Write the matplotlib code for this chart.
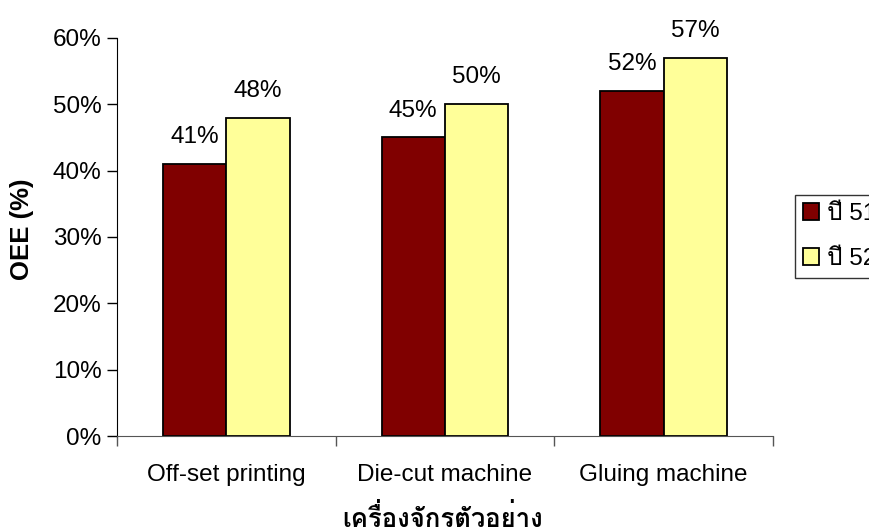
import matplotlib
matplotlib.use("Agg")
import matplotlib.pyplot as plt
from matplotlib import font_manager
from matplotlib.ft2font import FT2Font
import numpy as np

categories = ["Off-set printing", "Die-cut machine", "Gluing machine"]
series_names = ["ปี 51", "ปี 52"]
oee_51 = [41, 45, 52]
oee_52 = [48, 50, 57]
y_ticks = [0, 10, 20, 30, 40, 50, 60]
x_title = "เครื่องจักรตัวอย่าง"
y_title = "OEE (%)"


def thai_family():
    """Return the name of an installed font that can draw Thai text."""
    seen = set()
    for f in font_manager.fontManager.ttflist:
        if f.name in seen:
            continue
        seen.add(f.name)
        try:
            cmap = FT2Font(f.fname).get_charmap()
        except Exception:
            continue
        if 0x0E1B in cmap and 0x0E35 in cmap:
            return f.name
    return None


thai = thai_family()
latin = "Liberation Sans"
fams = [latin] + ([thai] if thai else []) + ["DejaVu Sans"]
plt.rcParams["font.family"] = fams

fig = plt.figure(figsize=(8.7, 5.29), dpi=100)
ax = fig.add_axes([0.1345, 0.1758, 0.754, 0.7524])

x = np.arange(len(categories))
w = 0.29
c51 = "#800000"
c52 = "#FFFF99"
b1 = ax.bar(x - w / 2, oee_51, w, color=c51, edgecolor="black", linewidth=1.3,
            label=series_names[0])
b2 = ax.bar(x + w / 2, oee_52, w, color=c52, edgecolor="black", linewidth=1.3,
            label=series_names[1])

fs = 17.5
for bars, vals in ((b1, oee_51), (b2, oee_52)):
    for rect, v in zip(bars, vals):
        ax.text(rect.get_x() + rect.get_width() / 2, v + 2.4, f"{v}%",
                ha="center", va="bottom", fontsize=fs, color="black")

ax.set_xlim(-0.5, len(categories) - 0.5)
ax.set_ylim(0, 60)
ax.set_yticks(y_ticks)
ax.set_yticklabels([f"{t}%" for t in y_ticks], fontsize=fs)

ax.set_xticks(np.arange(len(categories) + 1) - 0.5)
ax.set_xticklabels([])
ax.set_xticks(x, minor=True)
ax.set_xticklabels(categories, minor=True, fontsize=fs)
ax.tick_params(axis="x", which="minor", length=0, pad=20)
ax.tick_params(axis="x", which="major", direction="out", length=7, width=1,
               color="#555555")
ax.tick_params(axis="y", direction="out", length=7, width=1, pad=4)

for s in ("top", "right"):
    ax.spines[s].set_visible(False)
ax.spines["left"].set_color("black")
ax.spines["bottom"].set_color("#555555")

ax.set_ylabel(y_title, fontsize=18.5, fontweight="bold")
ax.yaxis.set_label_coords(-0.127, 0.52)
ax.set_xlabel(x_title, fontsize=18.5, fontweight="bold")
ax.xaxis.set_label_coords(0.497, -0.172)

leg = ax.legend(loc="upper left", bbox_to_anchor=(795 / 870, 1 - 195 / 529),
                bbox_transform=fig.transFigure, fontsize=fs, frameon=True,
                fancybox=False, edgecolor="black", handlelength=0.65,
                handleheight=0.65, handletextpad=0.33, borderpad=0.33,
                labelspacing=0.95, borderaxespad=0)
leg.get_frame().set_linewidth(1.0)

fig.savefig("out.png", dpi=100)
